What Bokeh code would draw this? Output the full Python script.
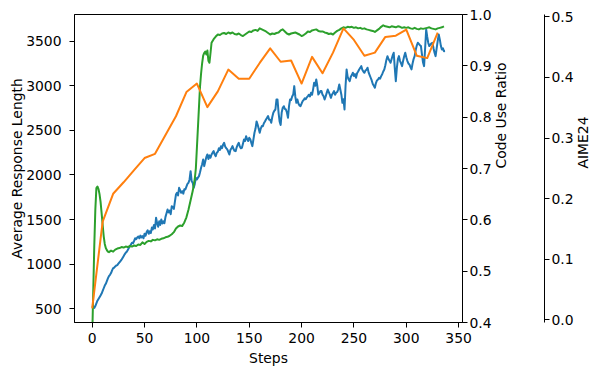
import math
from bokeh.plotting import figure
from bokeh.models import LinearAxis, Range1d, FixedTicker, PrintfTickFormatter
from bokeh.embed import file_html
from bokeh.resources import INLINE

# ---- data ----
len_steps = list(range(0, 338))
resp_len = [530, 520, 510, 530, 560, 590, 610, 630, 650, 670,
            700, 730, 760, 780, 810, 840, 866, 880, 900, 930,
            955, 960, 975, 985, 990, 1005, 1020, 1035, 1050, 1070,
            1090, 1110, 1128, 1140, 1160, 1180, 1200, 1220, 1240, 1235,
            1260, 1290, 1280, 1300, 1310, 1290, 1320, 1300, 1314, 1290,
            1340, 1320, 1360, 1380, 1340, 1370, 1350, 1410, 1390, 1440,
            1400, 1520, 1460, 1420, 1480, 1440, 1500, 1456, 1480, 1460,
            1530, 1570, 1613, 1580, 1600, 1560, 1650, 1640, 1620, 1700,
            1780, 1800, 1770, 1856, 1830, 1800, 1818, 1790, 1840, 1837,
            1870, 1900, 1912, 1950, 2043, 1930, 1912, 1856, 1900, 1968,
            1950, 1970, 1987, 2030, 2080, 2120, 2174, 2099, 2150, 2200,
            2230, 2180, 2220, 2193, 2230, 2250, 2267, 2230, 2210, 2249,
            2260, 2300, 2280, 2323, 2300, 2340, 2361, 2320, 2300, 2286,
            2260, 2230, 2280, 2300, 2323, 2290, 2270, 2267, 2310, 2340,
            2361, 2320, 2300, 2305, 2350, 2398, 2380, 2435, 2400, 2380,
            2417, 2400, 2360, 2323, 2400, 2473, 2520, 2600, 2566, 2520,
            2473, 2520, 2548, 2547, 2580, 2600, 2622, 2640, 2660, 2620,
            2620, 2585, 2650, 2697, 2720, 2734, 2846, 2846, 2700, 2600,
            2560, 2700, 2753, 2771, 2740, 2734, 2700, 2641, 2771, 2846,
            2840, 2880, 2902, 2996, 2880, 2809, 2846, 2800, 2780, 2771,
            2800, 2827, 2840, 2860, 2850, 2870, 2884, 2900, 2880, 2921,
            2900, 2960, 3034, 3000, 3070, 3000, 2902, 2920, 2940, 2940,
            2900, 2884, 2846, 2880, 2920, 2958, 2930, 2900, 2865, 2900,
            2920, 2940, 2900, 2921, 2930, 2960, 3014, 2958, 2900, 2809,
            2850, 2734, 3000, 3183, 3100, 3070, 3052, 3100, 3120, 3146,
            3110, 3130, 3090, 3140, 3160, 3183, 3200, 3220, 3180, 3160,
            3146, 3170, 3180, 3202, 3150, 3120, 3090, 3060, 3020, 3000,
            2978, 3030, 3060, 3070, 3090, 3080, 3108, 3130, 3160, 3183,
            3230, 3290, 3332, 3300, 3280, 3258, 3300, 3340, 3370, 3200,
            3052, 3200, 3300, 3332, 3280, 3250, 3220, 3280, 3330, 3370,
            3320, 3280, 3250, 3239, 3210, 3183, 3250, 3300, 3332, 3400,
            3450, 3482, 3470, 3455, 3445, 3350, 3260, 3220, 3420, 3631,
            3550, 3480, 3445, 3460, 3475, 3482, 3420, 3370, 3332, 3420,
            3500, 3575, 3520, 3450, 3407, 3420, 3388, 3390]

code_steps = [0, 1, 2, 3, 4, 5, 6, 7, 8, 9, 10, 11, 12, 13, 14, 15, 16, 18, 20,
              22, 24, 26, 28, 30, 32, 34, 36, 38, 40, 42, 44, 46, 48, 50, 52, 54,
              56, 58, 60, 62, 64, 66, 68, 70, 72, 74, 76, 78, 80, 82, 84, 86, 88,
              90, 92, 94, 96, 98, 99, 100, 101, 102, 103, 104, 105, 106, 107, 108,
              109, 110, 111, 112, 113, 114, 116, 118, 120, 122, 124, 126, 128, 130,
              132, 134, 136, 138, 140, 142, 144, 146, 148, 150, 152, 154, 156, 158,
              160, 162, 164, 166, 168, 170, 172, 174, 176, 178, 180, 182, 184, 186,
              188, 190, 192, 194, 196, 198, 200, 202, 204, 206, 208, 210, 212, 214,
              216, 218, 220, 222, 224, 226, 228, 230, 232, 234, 236, 238, 240, 242,
              244, 246, 248, 250, 252, 254, 256, 258, 260, 262, 264, 266, 268, 270,
              272, 274, 276, 278, 280, 282, 284, 286, 288, 290, 292, 294, 296, 298,
              300, 302, 304, 306, 308, 310, 312, 314, 316, 318, 320, 322, 324, 326,
              328, 330, 332, 334, 336]
code_ratio = [0.37, 0.46, 0.55, 0.62, 0.662, 0.665, 0.66, 0.65, 0.635, 0.613, 0.59,
              0.568, 0.553, 0.545, 0.541, 0.538, 0.537, 0.540, 0.538,
              0.542, 0.544, 0.545, 0.547, 0.546, 0.548, 0.547, 0.549, 0.548, 0.550,
              0.549, 0.552, 0.551, 0.556, 0.553, 0.557, 0.559, 0.558, 0.561, 0.560,
              0.562, 0.561, 0.563, 0.564, 0.566, 0.567, 0.569, 0.572, 0.576, 0.583,
              0.587, 0.589, 0.588, 0.595, 0.605, 0.620, 0.638, 0.656, 0.680, 0.700,
              0.740, 0.780, 0.820, 0.860, 0.885, 0.905, 0.920, 0.925, 0.928, 0.922,
              0.930, 0.910, 0.906, 0.925, 0.945, 0.952, 0.957, 0.961, 0.960, 0.963,
              0.964, 0.962, 0.965, 0.963, 0.965, 0.962, 0.961, 0.963, 0.960, 0.958,
              0.961, 0.964, 0.967, 0.966, 0.969, 0.970, 0.968, 0.973, 0.971, 0.969,
              0.967, 0.964, 0.961, 0.963, 0.962, 0.964, 0.965, 0.969, 0.971, 0.967,
              0.963, 0.961, 0.963, 0.964, 0.965, 0.963, 0.961, 0.958, 0.960, 0.963,
              0.967, 0.966, 0.969, 0.970, 0.971, 0.968, 0.967, 0.967, 0.965, 0.964,
              0.962, 0.963, 0.961, 0.965, 0.968, 0.970, 0.973, 0.975, 0.974, 0.976,
              0.975, 0.976, 0.974, 0.975, 0.973, 0.974, 0.972, 0.973, 0.971, 0.970,
              0.969, 0.968, 0.966, 0.969, 0.972, 0.976, 0.979, 0.977, 0.976, 0.975,
              0.977, 0.976, 0.975, 0.977, 0.976, 0.974, 0.975, 0.974, 0.975, 0.973,
              0.972, 0.974, 0.972, 0.971, 0.973, 0.972, 0.973, 0.974, 0.975, 0.973,
              0.972, 0.971, 0.973, 0.974, 0.975, 0.977]

aime_steps = [0, 10, 20, 30, 40, 50, 60, 70, 80, 90, 100, 110, 120, 130, 140, 150,
              160, 170, 180, 190, 200, 210, 220, 230, 240, 250, 260, 270, 280, 290,
              300, 310, 320, 330]
aime = [0.019, 0.162, 0.208, 0.227, 0.247, 0.267, 0.274, 0.305, 0.336, 0.376,
        0.390, 0.351, 0.377, 0.413, 0.398, 0.398, 0.424, 0.448, 0.426, 0.428,
        0.390, 0.434, 0.407, 0.441, 0.481, 0.462, 0.436, 0.441, 0.467, 0.469,
        0.479, 0.436, 0.432, 0.474]

x_ticks = [0, 50, 100, 150, 200, 250, 300, 350]
len_ticks = [500, 1000, 1500, 2000, 2500, 3000, 3500]
code_ticks = [0.4, 0.5, 0.6, 0.7, 0.8, 0.9, 1.0]
aime_ticks = [0.0, 0.1, 0.2, 0.3, 0.4, 0.5]

FONT = "DejaVu Sans"
FS = "13.9px"

p = figure(frame_width=388, frame_height=308,
           x_range=Range1d(-16.9, 353.7), y_range=Range1d(346, 3799),
           output_backend="svg", toolbar_location=None,
           min_border_left=74, min_border_top=14, min_border_bottom=45,
           min_border_right=5)
p.extra_y_ranges = {"code": Range1d(0.4, 1.0), "aime": Range1d(-0.0045, 0.504)}
p.xgrid.visible = False
p.ygrid.visible = False
p.outline_line_color = "black"
p.outline_line_width = 1
p.background_fill_color = "white"
p.border_fill_color = "white"


def style(ax, label, label_standoff=4, title_standoff=6):
    ax.axis_label = label
    ax.axis_label_text_font = FONT
    ax.axis_label_text_font_size = FS
    ax.axis_label_text_font_style = "normal"
    ax.axis_label_text_color = "black"
    ax.major_label_text_font = FONT
    ax.major_label_text_font_size = FS
    ax.major_label_text_color = "black"
    ax.axis_line_color = "black"
    ax.major_tick_line_color = "black"
    ax.major_tick_out = 5
    ax.major_tick_in = 0
    ax.minor_tick_line_color = None
    ax.major_label_standoff = label_standoff
    ax.axis_label_standoff = title_standoff


p.xaxis.ticker = FixedTicker(ticks=x_ticks)
style(p.xaxis[0], "Steps", 5, 4)
p.yaxis.ticker = FixedTicker(ticks=len_ticks)
style(p.yaxis[0], "Average Response Length", 8, -2)

code_axis = LinearAxis(y_range_name="code", ticker=FixedTicker(ticks=code_ticks),
                       formatter=PrintfTickFormatter(format="%.1f"))
style(code_axis, "Code Use Ratio", 2, 6)
code_axis.axis_label_orientation = math.pi / 2
p.add_layout(code_axis, "right")

spacer = LinearAxis(y_range_name="aime", ticker=FixedTicker(ticks=[]))
spacer.axis_line_color = None
spacer.major_tick_line_color = None
spacer.minor_tick_line_color = None
spacer.axis_label = "\u2003"
spacer.axis_label_text_font_size = "20px"
spacer.axis_label_standoff = 0
p.add_layout(spacer, "right")

aime_axis = LinearAxis(y_range_name="aime", ticker=FixedTicker(ticks=aime_ticks),
                       formatter=PrintfTickFormatter(format="%.1f"))
style(aime_axis, "AIME24", 2, 6)
aime_axis.axis_label_orientation = math.pi / 2
p.add_layout(aime_axis, "right")

p.line(len_steps, resp_len, color="#1f77b4", line_width=2, line_join="round")
p.line(code_steps, code_ratio, color="#2ca02c", line_width=2, line_join="round",
       y_range_name="code")
p.line(aime_steps, aime, color="#ff7f0e", line_width=2, line_join="round",
       y_range_name="aime")

open("out.html", "w").write(file_html(p, INLINE))
